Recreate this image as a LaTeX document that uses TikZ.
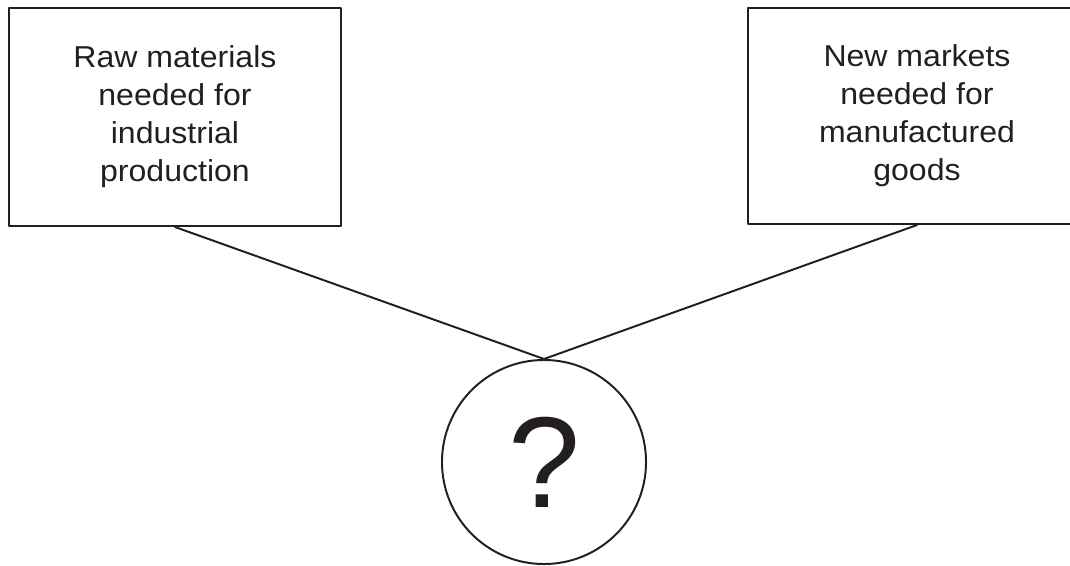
\documentclass[tikz,border=0pt]{standalone}
\usepackage{fontspec}
\setmainfont{Liberation Sans}[FakeStretch=1.06]
\newfontfamily\markfont{Liberation Sans}
\definecolor{ink}{RGB}{35,31,32}
\begin{document}
\begin{tikzpicture}[x=0.025cm,y=-0.025cm,line join=round,line cap=round,line width=1.4pt,color=ink,
	box/.style={draw,rectangle,align=center,font=\fontsize{21.5}{27}\selectfont,inner sep=0pt},
	ring/.style={draw,circle,minimum size=5.1cm,inner sep=0pt,font=\markfont\fontsize{92}{94}\selectfont}]
			\useasboundingbox (0,0) rectangle (1070,565);
			\node[box,minimum width=8.3cm,minimum height=5.45cm](raw) at (175,117){Raw materials\\needed for\\industrial\\production};
			\node[box,minimum width=8.45cm,minimum height=5.4cm](markets) at (917,116){New markets\\needed for\\manufactured\\goods};
			\node[ring](q) at (544,462){?};
			
			\draw (raw.south)--(q.north)--(markets.south);
			
			\end{tikzpicture}
\end{document}
